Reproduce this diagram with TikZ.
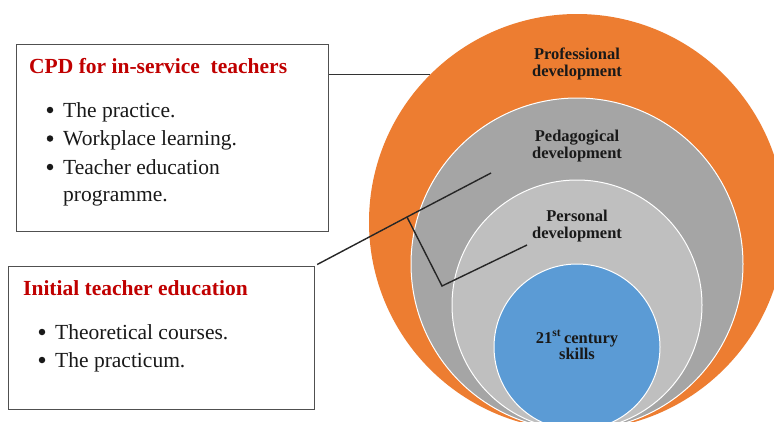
\documentclass[tikz,border=0pt]{standalone}
\usepackage{fontspec}
\setmainfont{Liberation Serif}
\definecolor{porange}{HTML}{ED7D31}
\definecolor{pgray}{HTML}{A5A5A5}
\definecolor{plgray}{HTML}{BFBFBF}
\definecolor{pblue}{HTML}{5B9BD5}
\definecolor{ptitle}{HTML}{C00000}
\definecolor{pframe}{HTML}{505050}
\begin{document}
\begin{tikzpicture}[x=1pt,y=-1pt,
  ring/.style={circle,inner sep=0pt,draw=white,line width=1pt},
  infobox/.style={draw=pframe,line width=1.2pt,fill=white,inner sep=0pt,anchor=north west},
  boxtitle/.style={anchor=base west,inner sep=0pt,text=ptitle,font=\fontsize{21.5}{26}\selectfont\bfseries},
  bul/.style={circle,fill=black!90,inner sep=0pt,minimum size=6.5pt},
  item/.style={anchor=base west,inner sep=0pt,text=black!90,font=\fontsize{21.5}{26}\selectfont},
  ringlabel/.style={align=center,inner sep=0pt,text=black!90,font=\fontsize{16.5}{16.5}\selectfont\bfseries},
  link/.style={draw=black!85,line width=1.4pt}]
\useasboundingbox (0,0) rectangle (774,421);
\clip (0,0) rectangle (774,421);
\fill[white] (0,0) rectangle (774,421);
% circles
\node[ring,fill=porange,draw=none,minimum size=416pt] (orange) at (577,222) {};
\node[ring,fill=pgray,minimum size=332pt] (gray) at (577,264) {};
\node[ring,fill=plgray,minimum size=250pt] (lgray) at (577,305) {};
\node[ring,fill=pblue,minimum size=166pt] (blue) at (577,347) {};
\node[ringlabel] (lprof) at (577,64) {Professional\\development};
\node[ringlabel] (lped) at (577,146) {Pedagogical\\development};
\node[ringlabel] (lpers) at (577,226) {Personal\\development};
\node[ringlabel] (lskill) at (577,345) {21\textsuperscript{st}\,century\\skills};
% box 1
\node[infobox,minimum width=312pt,minimum height=187pt] (cpd) at (16,44) {};
\node[boxtitle] (cpdt) at (29,73) {CPD for in-service\ \ teachers};
\node[bul] (b1) at (50,110) {};
\node[item] (i1) at (63,117) {The practice.};
\node[bul] (b2) at (50,138.5) {};
\node[item] (i2) at (63,145.5) {Workplace learning.};
\node[bul] (b3) at (50,167) {};
\node[item] (i3) at (63,174) {Teacher education};
\node[item] (i4) at (63,201) {programme.};
% box 2
\node[infobox,minimum width=306pt,minimum height=143pt] (ite) at (8,266) {};
\node[boxtitle] (itet) at (23,295) {Initial\ teacher education};
\node[bul] (b4) at (42,332) {};
\node[item] (i5) at (55,339) {Theoretical\ courses.};
\node[bul] (b5) at (42,360) {};
\node[item] (i6) at (55,367) {The practicum.};
% connectors
\draw[link,line width=1.2pt,draw=black!80] (cpd.east |- orange.135) -- (orange.135);
\coordinate (j) at (407,217);
\coordinate (e1) at (491,173);
\coordinate (k) at (442,286);
\coordinate (e2) at (527,245);
\draw[link] ([xshift=2pt,yshift=1.5pt]ite.north east) -- (j) -- (e1);
\draw[link] (j) -- (k) -- (e2);
\end{tikzpicture}
\end{document}
